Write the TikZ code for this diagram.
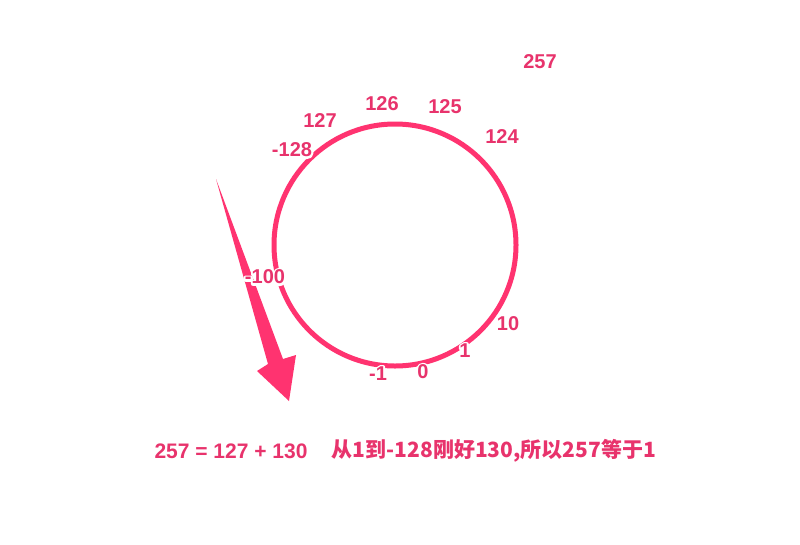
\documentclass[tikz,border=0pt]{standalone}
\usepackage{fontspec}
\setmainfont{Liberation Sans}
\newfontfamily\cjk{Noto Sans CJK SC}
\usetikzlibrary{positioning}
\definecolor{ringpink}{HTML}{FF3370}
\definecolor{textpink}{HTML}{E8336C}
\newcommand\halotext[1]{\special{pdf:literal direct 2 Tr 4 w 1 j 1 1 1 RG}#1\special{pdf:literal direct 0 Tr 0.4 w}}
\newcommand\ringlabel[3]{%
  \node[num,text=white] at (#2) {\halotext{#3}};
  \node[num] (#1) at (#2) {#3};}

\begin{document}
\begin{tikzpicture}[x=1pt,y=-1pt,
  num/.style={text=textpink,font=\fontsize{20}{20}\selectfont\bfseries,inner sep=0pt},
  note/.style={text=textpink,font=\fontsize{21}{21}\selectfont\bfseries,inner sep=0pt}]
 \useasboundingbox[fill=white] (0,0) rectangle (800,544);
 \node[draw=ringpink,line width=5pt,circle,minimum size=242pt,inner sep=0pt] (ring) at (395,245) {};
 \fill[ringpink](216,179)--(283,359)--(296,355)--(289,401)--(257,371)--(268,364)--cycle;
 \ringlabel{n257}{540,62}{257}
 \ringlabel{n126}{382,104}{126}
 \ringlabel{n125}{445,107}{125}
 \ringlabel{n127}{320,121}{127}
 \ringlabel{n124}{502,137}{124}
 \ringlabel{nm128}{292,150}{-128}
 \ringlabel{nm100}{265,277}{-100}
 \ringlabel{n10}{508,324}{10}
 \ringlabel{n1}{465,351}{1}
 \ringlabel{n0}{423,372}{0}
 \ringlabel{nm1}{378,374}{-1}
 \node[note] (sum) at (231,451) {257 = 127 + 130};
 \node[note,font=\fontsize{21}{21}\selectfont\cjk\bfseries] (why) at (494,451) {从1到-128刚好130,所以257等于1};
\end{tikzpicture}
\end{document}
